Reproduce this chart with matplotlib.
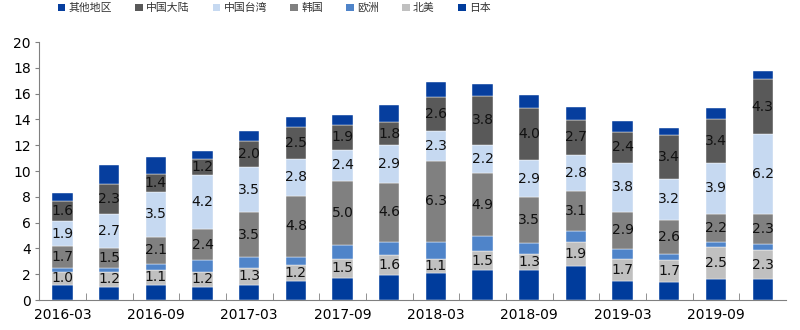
import numpy as np
import matplotlib.pyplot as plt
from matplotlib.patches import Patch

plt.rcParams['font.family'] = ['DejaVu Sans']

# quarterly data, bottom to top of each stack
quarters = ['2016-03', '2016-06', '2016-09', '2016-12', '2017-03', '2017-06', '2017-09', '2017-12',
            '2018-03', '2018-06', '2018-09', '2018-12', '2019-03', '2019-06', '2019-09', '2019-12']
japan = [1.2, 1.0, 1.2, 1.0, 1.2, 1.5, 1.7, 1.9, 2.1, 2.3, 2.3, 2.6, 1.5, 1.4, 1.6, 1.6]
north_america = [1.0, 1.2, 1.1, 1.2, 1.3, 1.2, 1.5, 1.6, 1.1, 1.5, 1.3, 1.9, 1.7, 1.7, 2.5, 2.3]
europe = [0.3, 0.3, 0.5, 0.9, 0.8, 0.6, 1.05, 1.0, 1.3, 1.15, 0.85, 0.85, 0.75, 0.5, 0.4, 0.45]
korea = [1.7, 1.5, 2.1, 2.4, 3.5, 4.8, 5.0, 4.6, 6.3, 4.9, 3.5, 3.1, 2.9, 2.6, 2.2, 2.3]
taiwan = [1.9, 2.7, 3.5, 4.2, 3.5, 2.8, 2.4, 2.9, 2.3, 2.2, 2.9, 2.8, 3.8, 3.2, 3.9, 6.2]
mainland = [1.6, 2.3, 1.4, 1.2, 2.0, 2.5, 1.9, 1.8, 2.6, 3.8, 4.0, 2.7, 2.4, 3.4, 3.4, 4.3]
other = [0.6, 1.5, 1.3, 0.65, 0.8, 0.75, 0.8, 1.3, 1.2, 0.87, 1.05, 1.05, 0.8, 0.53, 0.87, 0.62]

series = [
    ('日本', japan, '#003c9c', False),
    ('北美', north_america, '#c0c0c0', True),
    ('欧洲', europe, '#4f84c9', False),
    ('韩国', korea, '#808080', True),
    ('中国台湾', taiwan, '#c6d9f1', True),
    ('中国大陆', mainland, '#595959', True),
    ('其他地区', other, '#063e9e', False),
]

fig = plt.figure(figsize=(8, 3.3), dpi=100)
ax = fig.add_axes([0.049, 0.0909, 0.9335, 0.7818])

x = np.arange(len(quarters))
bottom = np.zeros(len(quarters))
for name, vals, color, show in series:
    vals = np.array(vals)
    bars = ax.bar(x, vals, 0.435, bottom=bottom, color=color, edgecolor='white', linewidth=0.3)
    if show:
        ax.bar_label(bars, labels=[f'{v:.1f}' for v in vals], label_type='center',
                     fontsize=10, color='#111111')
    bottom += vals

ax.set_xlim(-0.5, len(quarters) - 0.5)
ax.set_ylim(0, 20)
ax.set_yticks(range(0, 21, 2))
ax.set_xticks(x[::2])
ax.set_xticklabels(quarters[::2])
ax.set_xticks(np.arange(0.5, len(quarters) - 0.5), minor=True)
ax.tick_params(axis='x', which='major', length=0, labelsize=10, pad=6)
ax.tick_params(axis='x', which='minor', direction='in', length=5, color='#808080')
ax.tick_params(axis='y', direction='out', length=3, labelsize=10, color='#808080', pad=3)
for side in ['top', 'right']:
    ax.spines[side].set_visible(False)
ax.spines['left'].set_color('#808080')
ax.spines['bottom'].set_color('#808080')

# legend order as in the reference (top of stack first)
handles = [Patch(facecolor=c, edgecolor='none') for _, _, c, _ in series[::-1]]
labels = [n for n, _, _, _ in series[::-1]]
fig.legend(handles, labels, loc='center left', bbox_to_anchor=(0.072, 0.976), ncol=7,
           frameon=False, borderpad=0, borderaxespad=0, handlelength=0.7, handleheight=0.7,
           handletextpad=0.3, columnspacing=2.15, labelcolor='#333333',
           prop={'family': ['Noto Sans CJK SC', 'DejaVu Sans'], 'size': 7.8})

fig.savefig('out.png', dpi=100)
